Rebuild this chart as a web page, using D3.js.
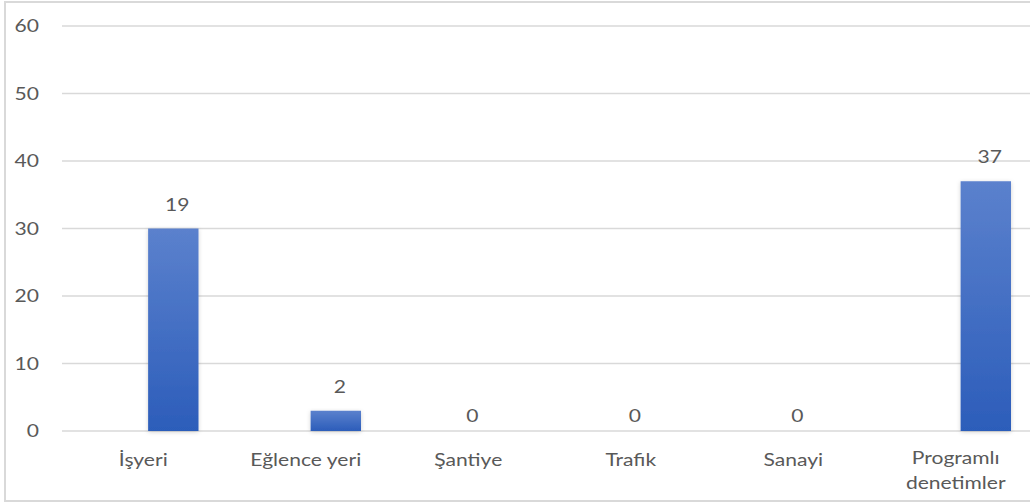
<!DOCTYPE html>
<html>
<head>
<meta charset="utf-8">
<script src="https://cdn.jsdelivr.net/npm/d3@7"></script>
<style>
  html, body { margin: 0; padding: 0; background: #fff; }
  text { font-family: Lato, "Open Sans", sans-serif; fill: #595959; }
</style>
</head>
<body>
<div id="chart"></div>
<script>
const categories = ["İşyeri", "Eğlence yeri", "Şantiye", "Trafik", "Sanayi", "Programlı denetimler"];
const values = [30, 3, 0, 0, 0, 37];          // bar heights as drawn
const valueLabels = ["19", "2", "0", "0", "0", "37"]; // labels as printed
const yTicks = [0, 10, 20, 30, 40, 50, 60];

const W = 1030, H = 504;
const stretch = 1.24; // the reference text is widened horizontally

const svg = d3.select("#chart").append("svg")
	.attr("width", W)
	.attr("height", H);

// gradient + soft shadow for bars
const defs = svg.append("defs");
const grad = defs.append("linearGradient")
	.attr("id", "barGrad")
	.attr("x1", 0).attr("y1", 0).attr("x2", 0).attr("y2", 1);
grad.append("stop").attr("offset", "0%").attr("stop-color", "#5b81cd");
grad.append("stop").attr("offset", "100%").attr("stop-color", "#2c5dba");

const shadow = defs.append("filter").attr("id", "shadow")
	.attr("x", "-30%").attr("y", "-10%").attr("width", "160%").attr("height", "130%");
shadow.append("feDropShadow")
	.attr("dx", 0).attr("dy", 1).attr("stdDeviation", 2)
	.attr("flood-color", "#000").attr("flood-opacity", 0.18);

// outer frame
svg.append("rect")
	.attr("x", 5).attr("y", 2)
	.attr("width", W + 10).attr("height", 499)
	.attr("fill", "none")
	.attr("stroke", "#d9d9d9")
	.attr("stroke-width", 2);

const x = d3.scaleBand()
	.domain(categories)
	.range([62, 1037])
	.padding(0);

const y = d3.scaleLinear()
	.domain([0, 60])
	.range([431, 26]);

const bw = x.bandwidth();
const barW = bw * 0.31;
const barX = c => x(c) + bw / 2 + bw * 0.03;

// gridlines
svg.append("g")
	.selectAll("line")
	.data(yTicks)
	.enter().append("line")
	.attr("x1", 62).attr("x2", W)
	.attr("y1", d => y(d)).attr("y2", d => y(d))
	.attr("stroke", "#d9d9d9")
	.attr("stroke-width", 1.5);

function sText(g, tx, ty, str, anchor, size) {
	g.append("text")
		.attr("transform", `translate(${tx},${ty}) scale(${stretch},1)`)
		.attr("text-anchor", anchor)
		.style("font-size", size + "px")
		.text(str);
}

// y tick labels
const yl = svg.append("g");
yTicks.forEach(t => sText(yl, 39, y(t) + 6, String(t), "end", 17));

// bars
svg.append("g")
	.selectAll("rect")
	.data(categories)
	.enter().append("rect")
	.attr("x", d => barX(d))
	.attr("width", barW)
	.attr("y", (d, i) => y(values[i]))
	.attr("height", (d, i) => y(0) - y(values[i]))
	.attr("fill", "url(#barGrad)")
	.attr("filter", "url(#shadow)");

// value labels
const vl = svg.append("g");
categories.forEach((c, i) => {
	const v = values[i];
	const cx = v > 0 ? barX(c) + barW / 2 + 4 : x(c) + bw / 2 + 4;
	const by = v > 0 ? y(v) - 18 : y(0) - 9;
	sText(vl, cx, by, valueLabels[i], "middle", 17);
});

// category labels
const cl = svg.append("g");
categories.forEach(c => {
	const cx = x(c) + bw / 2;
	if (c === "Programlı denetimler") {
		sText(cl, cx, 464, "Programlı", "middle", 17);
		sText(cl, cx, 489, "denetimler", "middle", 17);
	} else {
		sText(cl, cx, 466, c, "middle", 17);
	}
});
</script>
</body>
</html>
